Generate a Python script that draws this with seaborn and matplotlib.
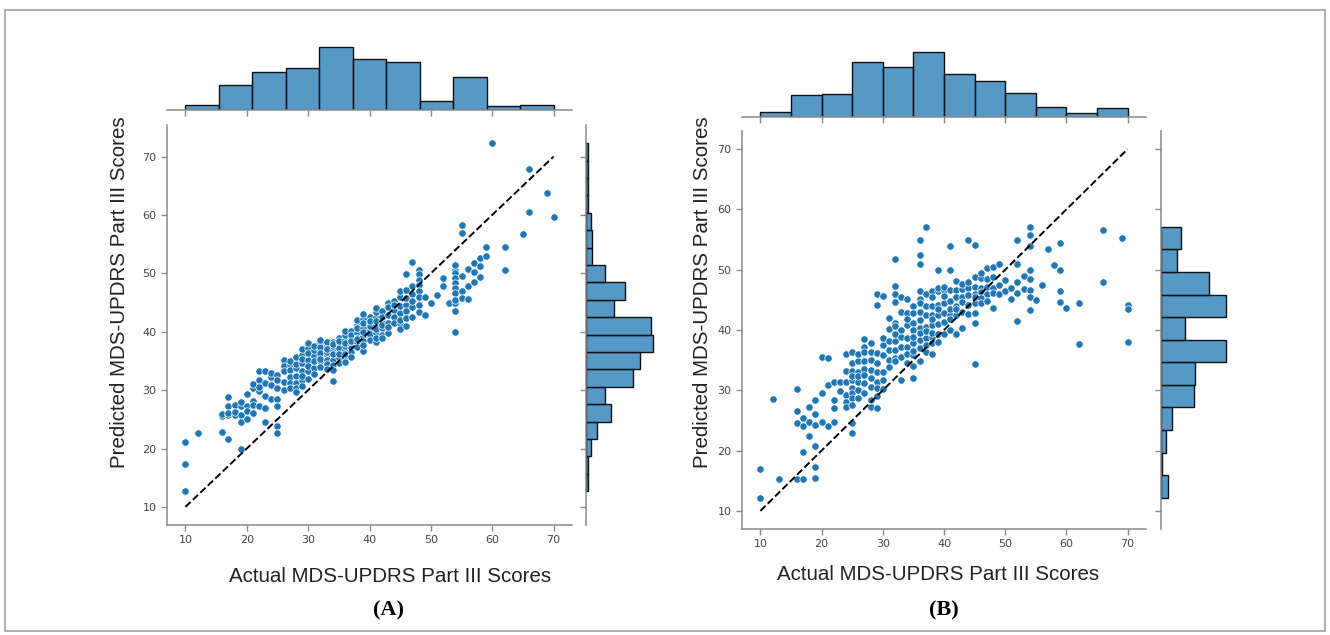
import numpy as np
import matplotlib
matplotlib.use("Agg")
import matplotlib.pyplot as plt
import seaborn as sns
from matplotlib.patches import Rectangle

sns.set_theme(style="ticks")
plt.rcParams['font.family'] = ['DejaVu Sans']

# ---------------- Panel A data ----------------
actual_a = (
    [10]*3 + [12]*1 + [16]*3 + [17]*5 + [18]*3 + [19]*5 + [20]*4 +
    [21]*5 + [22]*5 + [23]*5 + [24]*4 + [25]*7 + [26]*5 +
    [27]*6 + [28]*7 + [29]*8 + [30]*7 + [31]*6 +
    [32]*9 + [33]*8 + [34]*9 + [35]*8 + [36]*9 + [37]*8 +
    [38]*8 + [39]*9 + [40]*8 + [41]*9 + [42]*7 +
    [43]*6 + [44]*5 + [45]*7 + [46]*7 + [47]*6 + [48]*8 +
    [49]*2 + [50]*1 + [51]*1 + [52]*2 + [53]*1 +
    [54]*11 + [55]*5 + [56]*3 + [57]*3 + [58]*3 + [59]*2 +
    [60]*1 + [62]*2 + [65]*1 + [66]*2 + [69]*1 + [70]*1
)
pred_a = [
    21.1, 17.3, 12.7,
    22.6,
    25.5, 22.8, 25.9,
    28.9, 27.2, 25.8, 21.6, 26.0,
    25.8, 27.5, 26.3,
    27.2, 25.8, 24.6, 20.0, 28.0,
    29.3, 27.3, 26.5, 25.0,
    30.3, 28.2, 26.0, 31.0, 27.4,
    33.2, 31.8, 27.2, 29.8, 30.5,
    33.2, 26.9, 24.5, 31.2, 29.0,
    30.8, 28.5, 32.3, 33.0,
    32.6, 31.8, 30.3, 28.5, 27.2, 23.8, 22.6,
    35.2, 34.2, 33.2, 31.4, 30.0,
    34.3, 33.5, 32.2, 31.2, 35.0, 30.4,
    33.8, 32.5, 31.3, 30.3, 29.6, 34.5, 35.6,
    36.0, 34.6, 33.2, 31.8, 30.7, 32.4, 35.4, 37.0,
    37.2, 35.2, 33.3, 31.9, 34.2, 36.3, 38.0,
    35.8, 33.8, 36.8, 34.9, 37.6, 32.7,
    38.0, 36.9, 35.9, 34.9, 37.4, 36.4, 35.3, 33.9, 38.6,
    37.5, 36.0, 35.2, 38.3, 36.6, 34.5, 33.6, 37.0,
    36.9, 35.2, 31.6, 38.2, 37.5, 36.2, 34.3, 33.4, 37.9,
    38.0, 36.6, 35.5, 39.0, 37.2, 34.6, 36.1, 38.4,
    38.6, 36.9, 35.5, 39.5, 37.6, 36.2, 34.8, 38.1, 40.2,
    38.9, 37.8, 40.1, 37.2, 36.5, 39.4, 38.4, 35.6,
    41.2, 39.8, 38.3, 40.6, 39.0, 37.3, 42.0, 38.7,
    42.1, 40.6, 39.2, 36.7, 41.5, 38.4, 40.0, 37.8, 43.0,
    41.5, 40.3, 39.2, 42.6, 40.9, 39.6, 38.5, 41.9,
    42.6, 41.2, 39.8, 38.2, 43.4, 40.5, 39.0, 41.9, 44.0,
    41.8, 40.6, 43.6, 42.5, 39.5, 41.2, 38.9,
    42.9, 41.5, 39.8, 45.0, 44.2, 40.8,
    43.8, 42.6, 45.2, 41.5, 44.5,
    43.2, 41.5, 40.5, 46.0, 44.4, 47.0, 42.0,
    44.6, 43.5, 42.3, 49.9, 45.8, 47.2, 41.0,
    44.3, 42.6, 52.0, 46.5, 45.3, 47.8,
    50.6, 49.8, 48.9, 48.0, 46.9, 46.0, 44.5, 43.3,
    46.0, 42.9,
    45.0,
    46.3,
    49.2, 47.8,
    44.9,
    50.6, 50.0, 49.2, 48.3, 47.5, 46.6, 40.0, 44.9, 51.5, 45.5, 43.5,
    58.3, 56.9, 47.0, 49.5, 45.8,
    47.8, 50.8, 45.6,
    51.7, 48.5, 50.2,
    52.6, 51.2, 49.4,
    54.5, 53.0,
    72.3,
    54.5, 50.5,
    56.7,
    67.8, 60.5,
    63.7,
    59.6,
]
# marginal histogram counts (panel A)
hist_x_a = [4, 20, 31, 34, 51, 41, 39, 7, 27, 3, 4]
hist_y_a = [1, 1, 3, 7, 16, 12, 30, 35, 43, 42, 18, 25, 12, 4, 4, 3, 1, 1, 1, 1]

# ---------------- Panel B data ----------------
actual_b = (
    [10]*2 + [12]*1 + [13]*1 + [16]*4 + [17]*4 + [18]*3 + [19]*6 +
    [20]*3 + [21]*3 + [22]*4 + [23]*2 + [24]*6 +
    [25]*11 + [26]*7 + [27]*8 + [28]*8 + [29]*9 +
    [30]*7 + [31]*6 + [32]*11 + [33]*7 + [34]*8 +
    [35]*10 + [36]*13 + [37]*9 + [38]*10 + [39]*9 +
    [40]*7 + [41]*8 + [42]*7 + [43]*6 + [44]*6 +
    [45]*9 + [46]*6 + [47]*5 + [48]*5 + [49]*3 +
    [50]*2 + [51]*2 + [52]*5 + [53]*2 + [54]*8 +
    [55]*1 + [56]*1 + [57]*1 + [58]*1 + [59]*4 +
    [60]*1 + [62]*2 + [66]*2 + [69]*1 + [70]*3
)
pred_b = [
    17.0, 12.2,
    28.6,
    15.3,
    30.2, 24.5, 15.3, 26.5,
    25.4, 15.3, 19.8, 24.0,
    27.3, 22.5, 24.7,
    28.4, 24.3, 20.7, 17.2, 15.5, 26.0,
    24.8, 35.6, 29.6,
    24.1, 35.3, 30.8,
    31.4, 28.4, 24.8, 27.0,
    31.4, 29.9,
    36.1, 33.2, 31.4, 29.2, 28.1, 27.3,
    36.4, 34.6, 33.2, 31.7, 30.3, 29.5, 28.7, 24.5, 22.9, 32.4, 27.5,
    34.8, 33.1, 31.4, 30.1, 36.0, 32.3, 28.8,
    37.2, 36.4, 33.6, 32.5, 31.2, 34.8, 29.5, 38.5,
    37.8, 35.0, 33.4, 30.6, 28.4, 27.3, 32.0, 36.4,
    46.0, 44.1, 34.5, 33.1, 31.4, 30.3, 27.0, 36.2, 29.0,
    35.9, 33.1, 31.7, 37.5, 38.6, 30.2, 45.6,
    36.7, 35.0, 38.2, 33.8, 40.2, 42.0,
    51.7, 47.3, 46.0, 44.6, 41.1, 40.6, 38.1, 36.7, 35.3, 34.8, 39.3,
    45.5, 37.2, 31.7, 38.9, 35.6, 40.0, 43.0,
    45.2, 42.8, 40.8, 37.2, 34.5, 38.6, 36.0, 41.8,
    41.1, 40.0, 37.8, 35.9, 32.0, 44.0, 42.8, 38.9, 36.5, 34.0,
    54.9, 52.4, 51.0, 45.2, 44.5, 41.7, 40.3, 38.3, 34.8, 46.4, 43.0, 37.0, 39.5,
    57.0, 42.5, 38.6, 36.4, 46.0, 44.0, 40.5, 39.8, 37.5,
    46.5, 43.9, 42.5, 38.9, 37.8, 36.1, 45.5, 40.8, 39.5, 41.8,
    49.9, 46.4, 44.2, 42.5, 39.4, 47.0, 43.4, 41.0, 38.0,
    46.6, 44.5, 39.4, 47.2, 42.8, 41.3, 45.6,
    53.9, 49.9, 46.6, 42.5, 40.0, 44.8, 43.4, 41.8,
    46.7, 39.4, 48.2, 45.5, 44.0, 42.5, 43.4,
    46.8, 40.3, 47.7, 45.5, 44.6, 43.0,
    55.0, 46.9, 48.0, 45.8, 44.2, 42.7,
    54.1, 47.1, 48.8, 44.4, 42.8, 41.1, 34.3, 46.0, 45.5,
    47.0, 48.7, 46.3, 45.3, 49.5, 44.5,
    48.5, 47.2, 46.0, 50.2, 44.8,
    48.8, 43.6, 47.0, 46.2, 50.5,
    51.0, 47.5, 46.0,
    46.5, 48.3,
    47.0, 45.2,
    55.0, 51.0, 46.2, 41.5, 48.0,
    46.8, 49.0,
    57.1, 55.7, 53.9, 50.0, 46.6, 45.5, 43.3, 48.5,
    45.0,
    47.5,
    53.4,
    50.7,
    50.0, 54.5, 46.4, 44.7,
    43.6,
    44.4, 37.6,
    56.6, 48.0,
    55.2,
    44.1, 43.4, 38.0,
]
hist_x_b = [4, 17, 18, 43, 39, 51, 34, 28, 19, 8, 3, 7]
hist_y_b = [6, 1, 4, 9, 27, 28, 53, 20, 53, 39, 13, 16]

tick_vals = [10, 20, 30, 40, 50, 60, 70]
x_label = "Actual MDS-UPDRS Part III Scores"
y_label = "Predicted MDS-UPDRS Part III Scores"
panel_tags = ["(A)", "(B)"]

BLUE = "#1f77b4"
SPINE = "#8a8a8a"
W, H = 1330, 635

fig = plt.figure(figsize=(13.3, 6.35), dpi=100)
fig.patch.set_facecolor("white")


def box(x0, y0, x1, y1):
    return [x0 / W, 1 - y1 / H, (x1 - x0) / W, (y1 - y0) / H]


def style_ax(ax, keep):
    for s in ["left", "right", "top", "bottom"]:
        ax.spines[s].set_visible(s in keep)
        ax.spines[s].set_color(SPINE)
        ax.spines[s].set_linewidth(1.1)
    ax.tick_params(colors=SPINE, labelcolor="#444444", labelsize=8, length=4, width=1)
    ax.set_facecolor("white")
    ax.grid(False)


def panel(sc_box, top_box, right_box, xa, ya, xlim, ylim,
          xedges, xcounts, yedges, ycounts):
    ax = fig.add_axes(box(*sc_box))
    axt = fig.add_axes(box(*top_box))
    axr = fig.add_axes(box(*right_box))

    sns.scatterplot(x=xa, y=ya, ax=ax, s=28, color=BLUE, edgecolor="white",
                    linewidth=0.5, zorder=3)
    ax.plot([10, 70], [10, 70], ls="--", color="black", lw=1.4, zorder=4)
    ax.set_xlim(*xlim)
    ax.set_ylim(*ylim)
    ax.set_xticks(tick_vals)
    ax.set_yticks(tick_vals)
    ax.set_xlabel("")
    ax.set_ylabel("")
    style_ax(ax, ["left", "bottom"])

    xedges = [float(v) for v in xedges]
    xc = [(a + b) / 2 for a, b in zip(xedges[:-1], xedges[1:])]
    sns.histplot(x=xc, weights=list(xcounts), bins=xedges, ax=axt, color=BLUE,
                 alpha=0.75, edgecolor="#111111", linewidth=1.0)
    axt.set_xlim(*xlim)
    axt.set_ylim(0, max(xcounts) * 1.05)
    axt.set_xticks(tick_vals)
    axt.set_xticklabels([])
    axt.set_yticks([])
    axt.set_xlabel("")
    axt.set_ylabel("")
    style_ax(axt, ["bottom"])

    yedges = [float(v) for v in yedges]
    yc = [(a + b) / 2 for a, b in zip(yedges[:-1], yedges[1:])]
    sns.histplot(y=yc, weights=list(ycounts), bins=yedges, ax=axr, color=BLUE,
                 alpha=0.75, edgecolor="#111111", linewidth=1.0)
    axr.set_ylim(*ylim)
    axr.set_xlim(0, max(ycounts) * 1.05)
    axr.set_yticks(tick_vals)
    axr.set_yticklabels([])
    axr.set_xticks([])
    axr.set_xlabel("")
    axr.set_ylabel("")
    style_ax(axr, ["left"])
    return ax


panel((167, 125, 572, 525), (167, 44, 572, 110), (586, 125, 656, 525),
      actual_a, pred_a, (7, 73), (6.9, 75.4),
      np.linspace(10, 70, 12), hist_x_a,
      np.linspace(12.7, 72.3, 21), hist_y_a)

panel((742, 131, 1146, 529), (742, 49, 1146, 117), (1161, 131, 1229, 529),
      actual_b, pred_b, (7, 73), (7, 73),
      np.linspace(10, 70, 13), hist_x_b,
      np.linspace(12.2, 57.1, 13), hist_y_b)

lab_kw = dict(family=["Liberation Sans", "DejaVu Sans"], fontsize=14.8, color="#222222")
fig.text(390 / W, 1 - 577 / H, x_label, ha="center", va="center", **lab_kw)
fig.text(938 / W, 1 - 575 / H, x_label, ha="center", va="center", **lab_kw)
fig.text(120 / W, 1 - 292 / H, y_label, ha="center", va="center", rotation=90, **lab_kw)
fig.text(703 / W, 1 - 292 / H, y_label, ha="center", va="center", rotation=90, **lab_kw)

tag_kw = dict(family=["Liberation Serif", "DejaVu Serif"], fontsize=16,
              fontweight="bold", color="black")
fig.text(388 / W, 1 - 610 / H, panel_tags[0], ha="center", va="center", **tag_kw)
fig.text(944 / W, 1 - 610 / H, panel_tags[1], ha="center", va="center", **tag_kw)

fig.add_artist(Rectangle((5 / W, 1 - 631 / H), 1320 / W, 621 / H,
                         transform=fig.transFigure, fill=False,
                         edgecolor="#a0a0a0", lw=1.2))

fig.savefig("out.png", dpi=100, facecolor="white")
